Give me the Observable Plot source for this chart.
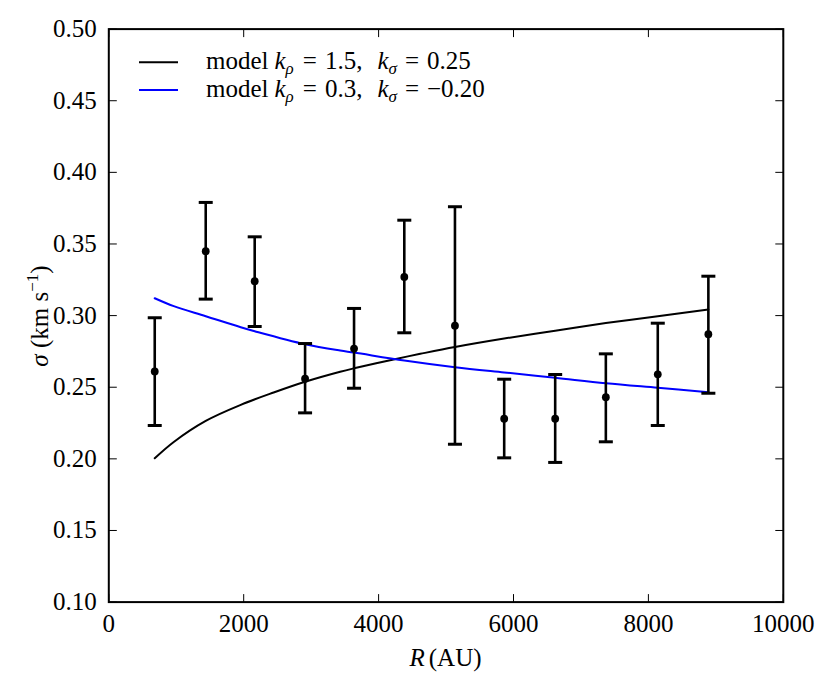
<!DOCTYPE html>
<html>
<head>
<meta charset="utf-8">
<script src="https://cdn.jsdelivr.net/npm/d3@7"></script>
<script src="https://cdn.jsdelivr.net/npm/@observablehq/plot@0.6"></script>
<style>
  html, body { margin: 0; padding: 0; background: #fff; }
  svg text { white-space: pre; }
</style>
</head>
<body>
<div id="chart"></div>
<script>
// Observed data
const obsR     = [681, 1437, 2163, 2910, 3636, 4381, 5132, 5862, 6618, 7369, 8139, 8889];
const obsSigma = [0.261, 0.345, 0.324, 0.256, 0.277, 0.327, 0.293, 0.228, 0.228, 0.243, 0.259, 0.287];
const obsHi    = [0.2985, 0.379, 0.355, 0.2805, 0.305, 0.3666, 0.376, 0.2556, 0.2589, 0.2733, 0.2947, 0.3275];
const obsLo    = [0.2233, 0.3115, 0.2924, 0.2321, 0.2493, 0.288, 0.2102, 0.2007, 0.1975, 0.2119, 0.2233, 0.2458];

// Model 1 (black): k_rho = 1.5, k_sigma = 0.25
const model1R     = [681, 963, 1437, 1956, 2444, 2910, 3430, 3636, 4222, 4618, 5132, 5862, 6618, 7369, 8139, 8889];
const model1Sigma = [0.2004, 0.2118, 0.2265, 0.2377, 0.2463, 0.2538, 0.2608, 0.2632, 0.2694, 0.2733, 0.2781, 0.2840, 0.2895, 0.2948, 0.2996, 0.3043];

// Model 2 (blue): k_rho = 0.3, k_sigma = -0.20
const model2R     = [681, 963, 1437, 1956, 2163, 2910, 3430, 3636, 4381, 5132, 5862, 6618, 7369, 8139, 8889];
const model2Sigma = [0.3121, 0.3066, 0.2996, 0.2919, 0.2891, 0.2800, 0.2756, 0.2742, 0.2687, 0.2640, 0.2603, 0.2566, 0.2528, 0.2496, 0.2465];

const xTicks = [0, 2000, 4000, 6000, 8000, 10000];
const yTicks = [0.10, 0.15, 0.20, 0.25, 0.30, 0.35, 0.40, 0.45, 0.50];

const obs = obsR.map((R, i) => ({R, s: obsSigma[i], hi: obsHi[i], lo: obsLo[i]}));
const m1 = model1R.map((R, i) => ({R, s: model1Sigma[i]}));
const m2 = model2R.map((R, i) => ({R, s: model2Sigma[i]}));

// custom symbols (size = PI r^2)
const rad = size => Math.sqrt(size / Math.PI);
const capSym   = {draw(c, s) { const r = rad(s); c.moveTo(-r, 0); c.lineTo(r, 0); }};
const tickUp   = {draw(c, s) { const r = rad(s); c.moveTo(0, 0); c.lineTo(0, -r); }};
const tickDown = {draw(c, s) { const r = rad(s); c.moveTo(0, 0); c.lineTo(0, r); }};
const tickRight= {draw(c, s) { const r = rad(s); c.moveTo(0, 0); c.lineTo(r, 0); }};
const tickLeft = {draw(c, s) { const r = rad(s); c.moveTo(0, 0); c.lineTo(-r, 0); }};

const font = '"Liberation Serif", "DejaVu Serif", serif';

const chart = Plot.plot({
  width: 831,
  height: 688,
  marginLeft: 108.3,
  marginRight: 48.2,
  marginTop: 28.6,
  marginBottom: 86.4,
  style: {fontFamily: font, fontSize: "25px", background: "#fff", color: "#000"},
  x: {domain: [0, 10000]},
  y: {domain: [0.10, 0.50]},
  marks: [
    Plot.line(m1, {x: "R", y: "s", stroke: "#000", strokeWidth: 2, curve: "catmull-rom"}),
    Plot.line(m2, {x: "R", y: "s", stroke: "#0000ff", strokeWidth: 2, curve: "catmull-rom"}),
    Plot.ruleX(obs, {x: "R", y1: "lo", y2: "hi", stroke: "#000", strokeWidth: 2.6}),
    Plot.dot(obs, {x: "R", y: "hi", symbol: capSym, r: 7, stroke: "#000", strokeWidth: 3, fill: "none"}),
    Plot.dot(obs, {x: "R", y: "lo", symbol: capSym, r: 7, stroke: "#000", strokeWidth: 3, fill: "none"}),
    Plot.dot(obs, {x: "R", y: "s", r: 3.9, fill: "#000", stroke: "none"}),
    // inward ticks on all four sides
    Plot.dot(xTicks, {x: d => d, y: () => 0.10, symbol: tickUp, r: 8, stroke: "#000", strokeWidth: 1, fill: "none"}),
    Plot.dot(xTicks, {x: d => d, y: () => 0.50, symbol: tickDown, r: 8, stroke: "#000", strokeWidth: 1, fill: "none"}),
    Plot.dot(yTicks, {y: d => d, x: () => 0, symbol: tickRight, r: 8, stroke: "#000", strokeWidth: 1, fill: "none"}),
    Plot.dot(yTicks, {y: d => d, x: () => 10000, symbol: tickLeft, r: 8, stroke: "#000", strokeWidth: 1, fill: "none"}),
    Plot.axisX({ticks: xTicks, tickSize: 0, tickPadding: 12, tickFormat: d => String(d), label: null}),
    Plot.axisY({ticks: yTicks, tickSize: 0, tickPadding: 12, tickFormat: d3.format(".2f"), label: null}),
    Plot.frame({stroke: "#000", strokeWidth: 2})
  ]
});

const svg = d3.select(chart);

// axis labels
const xl = svg.append("text")
  .attr("x", 445.5).attr("y", 666)
  .attr("text-anchor", "middle")
  .attr("font-family", font).attr("font-size", 25).attr("fill", "#000");
xl.append("tspan").attr("font-style", "italic").text("R");
xl.append("tspan").attr("dx", 4).text("(AU)");

const yl = svg.append("text")
  .attr("transform", "translate(48,316) rotate(-90)")
  .attr("text-anchor", "middle")
  .attr("font-family", font).attr("font-size", 25).attr("fill", "#000");
yl.append("tspan").attr("font-style", "italic").text("σ");
yl.append("tspan").text(" (km s");
yl.append("tspan").attr("font-size", 17).attr("dy", -10).text("−1");
yl.append("tspan").attr("dy", 10).text(")");

// legend
const legendItems = [
  {color: "#000", y: 62.3, rho: "1.5,", sig: "0.25"},
  {color: "#0000ff", y: 90, rho: "0.3,", sig: "−0.20"}
];
legendItems.forEach(it => {
  svg.append("line").attr("x1", 139).attr("x2", 178).attr("y1", it.y).attr("y2", it.y)
    .attr("stroke", it.color).attr("stroke-width", 2);
  const t = svg.append("text").attr("x", 206).attr("y", it.y + 6.5)
    .attr("text-anchor", "start")
    .attr("font-family", font).attr("font-size", 25).attr("fill", "#000");
  t.append("tspan").text("model");
  t.append("tspan").attr("dx", 6).attr("font-style", "italic").text("k");
  t.append("tspan").attr("font-style", "italic").attr("font-size", 17).attr("dy", 5).text("ρ");
  t.append("tspan").attr("dy", -5).attr("dx", 9).text("=");
  t.append("tspan").attr("dx", 8).text(it.rho);
  t.append("tspan").attr("dx", 15).attr("font-style", "italic").text("k");
  t.append("tspan").attr("font-style", "italic").attr("font-size", 17).attr("dy", 5).text("σ");
  t.append("tspan").attr("dy", -5).attr("dx", 8).text("=");
  t.append("tspan").attr("dx", 8).text(it.sig);
});

document.getElementById("chart").appendChild(chart);
</script>
</body>
</html>
